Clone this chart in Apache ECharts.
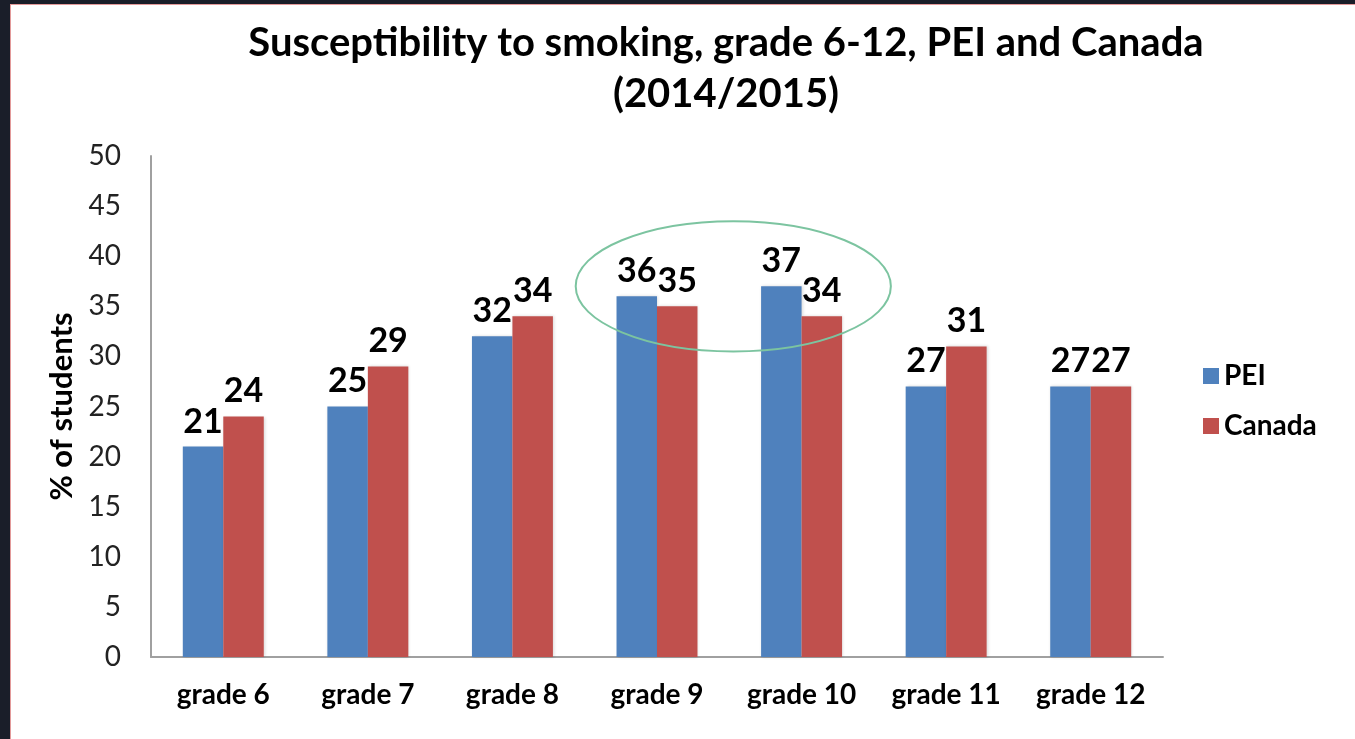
<!DOCTYPE html>
<html>
<head>
<meta charset="utf-8">
<script src="https://cdn.jsdelivr.net/npm/echarts@6/dist/echarts.min.js"></script>
<style>
  html, body { margin: 0; padding: 0; background: #1a1e29; }
  #main {
    position: absolute; left: 10px; top: 4px;
    width: 1345px; height: 735px;
    background: #fff;
    border-left: 1px solid #e39a9a; border-top: 1px solid #e39a9a;
  }
</style>
</head>
<body>
<div id="main"></div>
<script>
// chart data
const grades = ['grade 6', 'grade 7', 'grade 8', 'grade 9', 'grade 10', 'grade 11', 'grade 12']
const pei = [21, 25, 32, 36, 37, 27, 27]
const canada = [24, 29, 34, 35, 34, 31, 27]

const font = 'Lato, "Open Sans", sans-serif'
const chart = echarts.init(document.getElementById('main'))

const barLabel = {
  show: true,
  position: 'top',
  distance: 8,
  color: '#000',
  fontFamily: font,
  fontWeight: 'bold',
  fontSize: 34
}

chart.setOption({
  animation: false,
  title: {
    text: 'Susceptibility to smoking, grade 6-12, PEI and Canada\n(2014/2015)',
    left: 710,
    textAlign: 'center',
    top: 8,
    textStyle: {
      color: '#000',
      fontFamily: font,
      fontWeight: 'bold',
      fontSize: 40,
      lineHeight: 51
    }
  },
  legend: {
    orient: 'vertical',
    left: 1187,
    top: 352,
    itemWidth: 16,
    itemHeight: 16,
    itemGap: 22,
    icon: 'rect',
    textStyle: {
      color: '#000',
      fontFamily: font,
      fontWeight: 'bold',
      fontSize: 28
    },
    data: ['PEI', 'Canada']
  },
  grid: { left: 140, right: 193, top: 151, bottom: 83 },
  xAxis: {
    type: 'category',
    data: grades,
    axisLine: { lineStyle: { color: '#a0a0a0', width: 2 } },
    axisTick: { show: false },
    axisLabel: {
      margin: 24,
      color: '#000',
      fontFamily: font,
      fontWeight: 'bold',
      fontSize: 28
    }
  },
  yAxis: {
    type: 'value',
    min: 0,
    max: 50,
    interval: 5,
    name: '% of students',
    nameLocation: 'middle',
    nameGap: 74,
    nameTextStyle: {
      color: '#000',
      fontFamily: font,
      fontWeight: 'bold',
      fontSize: 31
    },
    axisLine: { show: true, lineStyle: { color: '#a0a0a0', width: 2 } },
    axisTick: { show: false },
    splitLine: { show: false },
    axisLabel: {
      margin: 30,
      color: '#222',
      fontFamily: font,
      fontSize: 28
    }
  },
  series: [
    {
      name: 'PEI',
      type: 'bar',
      data: pei,
      barGap: '0%',
      barCategoryGap: '44%',
      itemStyle: { color: '#4f81bd', shadowColor: 'rgba(0,0,0,0.15)', shadowBlur: 3, shadowOffsetX: 1 },
      label: barLabel
    },
    {
      name: 'Canada',
      type: 'bar',
      data: canada,
      itemStyle: { color: '#c0504d', shadowColor: 'rgba(0,0,0,0.15)', shadowBlur: 3, shadowOffsetX: 1 },
      label: barLabel
    }
  ]
})

// highlight ellipse around grade 9 and grade 10, placed through the axes
const p9 = chart.convertToPixel({ xAxisIndex: 0 }, 'grade 9')
const p10 = chart.convertToPixel({ xAxisIndex: 0 }, 'grade 10')
const cy = chart.convertToPixel({ yAxisIndex: 0 }, 37)
const yLow = chart.convertToPixel({ yAxisIndex: 0 }, 30.5)
chart.setOption({
  graphic: [{
    type: 'ellipse',
    shape: { cx: (p9 + p10) / 2 + 4, cy: cy, rx: (p10 - p9) * 1.09, ry: yLow - cy },
    style: { fill: 'none', stroke: '#7cc4a0', lineWidth: 2 },
    z: 100
  }]
})
</script>
</body>
</html>
